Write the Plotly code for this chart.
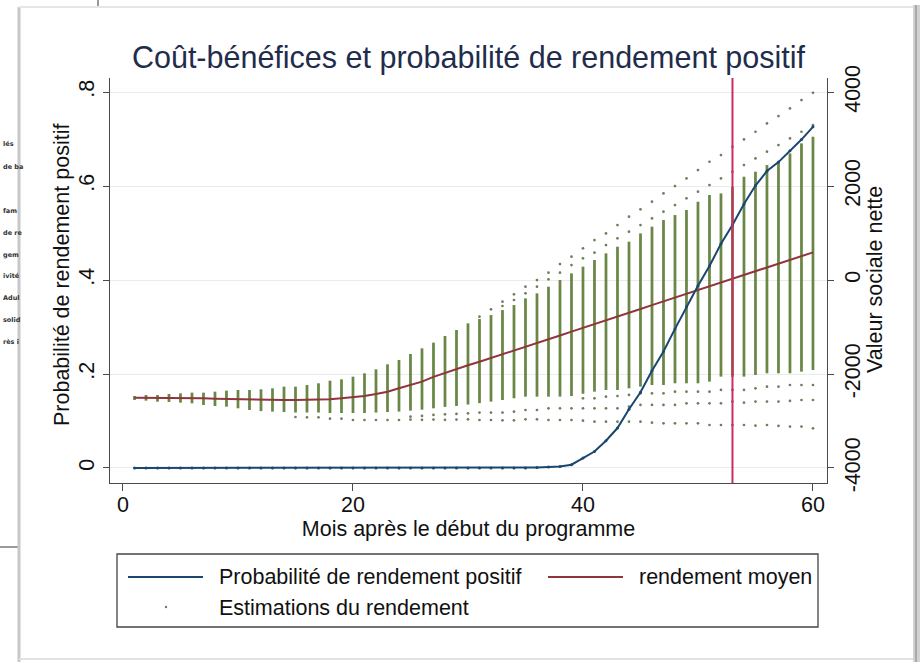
import plotly.graph_objects as go

# ---------------- data ----------------
months = list(range(1, 61))

# probability of positive return (left axis)
prob_positive = [
    0.0, 0.0, 0.0, 0.0, 0.0, 0.0, 0.0, 0.0, 0.0, 0.0,
    0.0, 0.0, 0.0, 0.0, 0.0, 0.0, 0.0, 0.0, 0.0, 0.0,
    0.0, 0.0, 0.0, 0.0, 0.0, 0.0, 0.0, 0.0, 0.0, 0.0,
    0.0, 0.0, 0.0, 0.0, 0.0, 0.001, 0.002, 0.003, 0.007, 0.021,
    0.035, 0.058, 0.085, 0.125, 0.161, 0.207, 0.248, 0.296, 0.343, 0.388,
    0.430, 0.477, 0.517, 0.562, 0.601, 0.632, 0.651, 0.675, 0.699, 0.726,
]

# mean return (right axis)
mean_return = [
    -2503, -2503, -2503, -2510, -2510, -2518, -2518, -2525, -2532, -2539,
    -2546, -2553, -2553, -2553, -2553, -2553, -2546, -2539, -2518, -2496,
    -2468, -2426, -2376, -2305, -2234, -2163, -2060, -1975, -1890, -1815,
    -1740, -1662, -1580, -1502, -1420, -1340, -1260, -1180, -1098, -1015,
    -936, -856, -776, -696, -615, -535, -455, -375, -295, -214,
    -134, -54, 27, 108, 188, 268, 349, 430, 510, 589,
]

# dense band of simulated returns (right axis)
band_high = [
    -2468, -2447, -2447, -2425, -2411, -2397, -2397, -2376, -2354, -2340,
    -2340, -2326, -2305, -2269, -2269, -2234, -2198, -2142, -2113, -2057,
    -1986, -1901, -1794, -1702, -1574, -1454, -1333, -1191, -1064, -922,
    -830, -745, -638, -532, -390, -284, -142, 0, 142, 284,
    426, 568, 709, 816, 993, 1135, 1277, 1383, 1490, 1667,
    1809, 1844, 1986, 2199, 2305, 2447, 2518, 2695, 2908, 3050,
]
band_low = [
    -2553, -2567, -2589, -2596, -2610, -2624, -2659, -2681, -2695, -2730,
    -2766, -2790, -2801, -2810, -2820, -2820, -2820, -2830, -2830, -2830,
    -2830, -2820, -2810, -2800, -2780, -2760, -2730, -2700, -2680, -2650,
    -2620, -2588, -2553, -2517, -2482, -2482, -2482, -2482, -2470, -2420,
    -2376, -2340, -2340, -2305, -2269, -2234, -2234, -2198, -2198, -2198,
    -2163, -2056, -2056, -2056, -2020, -1985, -1985, -1985, -1950, -1915,
]

# isolated simulated returns (right axis), None = no point
N = None
top_outer = [
    N, N, N, N, N, N, N, N, N, N,
    N, N, N, N, N, N, N, N, N, N,
    N, N, N, N, N, N, N, N, N, N,
    -780, -624, -461, -305, -142, 0, 156, 340, 497, 674,
    851, 993, 1170, 1348, 1504, 1667, 1844, 2000, 2163, 2341,
    2518, 2660, 2837, 2993, 3156, 3334, 3490, 3653, 3830, 3986,
]
top_inner = [
    N, N, N, N, N, N, N, N, N, N,
    N, N, N, N, N, N, N, N, N, N,
    N, N, N, N, N, N, N, N, N, N,
    N, N, -553, -425, -284, -142, 14, 156, 319, 461,
    582, 745, 887, 1029, 1170, 1312, 1454, 1596, 1738, 1880,
    2021, 2163, 2305, 2447, 2589, 2731, 2873, 3014, 3156, 3298,
]
bottom_inner = [
    N, N, N, N, N, N, N, N, N, N,
    N, N, N, N, N, N, N, N, N, N,
    N, N, N, N, N, N, N, N, N, N,
    N, N, N, N, N, N, N, N, N, -2517,
    -2517, -2482, -2468, -2446, -2411, -2411, -2411, -2376, -2376, -2376,
    -2376, -2340, -2340, -2340, -2305, -2269, -2269, -2234, -2234, -2234,
]
bottom_mid = [
    N, N, N, N, N, N, N, N, N, N,
    N, N, N, N, N, N, N, N, N, N,
    N, N, N, N, -2908, -2893, -2872, -2858, -2850, -2837,
    -2822, -2822, -2822, -2801, -2766, -2766, -2730, -2730, -2730, -2730,
    -2730, -2730, -2730, -2695, -2659, -2659, -2659, -2659, -2624, -2624,
    -2624, -2624, -2588, -2610, -2588, -2588, -2588, -2574, -2553, -2553,
]
bottom_outer = [
    N, N, N, N, N, N, N, N, N, N,
    N, N, N, N, -2915, -2922, -2922, -2950, -2950, -2979,
    -2979, -2979, -2979, -2979, -2970, -2975, -2970, -2975, -2970, -2964,
    -2979, -2979, -2986, -2986, -2964, -2964, -2979, -2979, -2979, -2993,
    -3014, -3014, -3014, -3014, -3014, -3035, -3050, -3050, -3050, -3050,
    -3085, -3085, -3085, -3085, -3099, -3085, -3106, -3120, -3120, -3156,
]

breakeven_month = 53

x_ticks = [0, 20, 40, 60]
prob_ticks = [0, 0.2, 0.4, 0.6, 0.8]
prob_ticktext = ["0", ".2", ".4", ".6", ".8"]
value_ticks = [-4000, -2000, 0, 2000, 4000]
value_ticktext = ["-4000", "-2000", "0", "2000", "4000"]

title_text = "Coût-bénéfices et probabilité de rendement positif"
x_title = "Mois après le début du programme"
left_title = "Probabilité de rendement positif"
right_title = "Valeur sociale nette"
legend_labels = ["Probabilité de rendement positif", "rendement moyen", "Estimations du rendement"]
bg_fragments = ["lés", "de ba", "fam", "de re", "gem", "ivité", "Adul", "solid", "rès i"]

# ---------------- styling / layout helpers ----------------
W, H = 920, 662
L, R, T, B = 110, 827, 78, 483
FONT = "Liberation Sans, Arial, Helvetica, sans-serif"
BLUE = "#1a476f"
MAROON = "#90353b"
GREEN = "#5e7d36"
DOT = "#6f7d5c"
AX = "#4a4a4a"


def px(x):
    return (x - L) / (R - L)


def py(y):
    return (B - y) / (B - T)


fig = go.Figure()

# dense bands
fig.add_trace(go.Bar(
    x=months, y=[h - l for h, l in zip(band_high, band_low)], base=band_low,
    width=0.24, marker=dict(color=GREEN, line_width=0), opacity=0.92,
    yaxis="y", showlegend=False, hoverinfo="skip", name=legend_labels[2]))

# isolated dots
ox, oy = [], []
for track in (top_outer, top_inner, bottom_inner, bottom_mid, bottom_outer):
    for m, v in zip(months, track):
        if v is not None:
            ox.append(m)
            oy.append(v)
fig.add_trace(go.Scatter(
    x=ox, y=oy, mode="markers", marker=dict(size=2.7, color=DOT),
    yaxis="y", name=legend_labels[2], showlegend=False))

# mean return line
fig.add_trace(go.Scatter(
    x=months, y=mean_return, mode="lines", line=dict(color=MAROON, width=2),
    yaxis="y", name=legend_labels[1], showlegend=False))

# probability line
fig.add_trace(go.Scatter(
    x=months, y=prob_positive, mode="lines+markers",
    line=dict(color=BLUE, width=2), marker=dict(size=3, color=BLUE),
    yaxis="y2", name=legend_labels[0], showlegend=False))

shapes = []
# breakeven vertical line
shapes.append(dict(type="line", xref="x", yref="paper", x0=breakeven_month, x1=breakeven_month,
                   y0=0, y1=1, line=dict(color="#cc2d62", width=2), layer="above"))

# legend box and samples
shapes.append(dict(type="rect", xref="paper", yref="paper", x0=px(117), x1=px(818),
                   y0=py(627), y1=py(554), line=dict(color="#444", width=1.3)))
shapes.append(dict(type="line", xref="paper", yref="paper", x0=px(128), x1=px(203),
                   y0=py(577), y1=py(577), line=dict(color=BLUE, width=2)))
shapes.append(dict(type="line", xref="paper", yref="paper", x0=px(548), x1=px(623),
                   y0=py(577), y1=py(577), line=dict(color=MAROON, width=2)))
shapes.append(dict(type="circle", xref="paper", yref="paper", x0=px(164.8), x1=px(167.2),
                   y0=py(608.2), y1=py(605.8), fillcolor=DOT, line=dict(width=0)))

# card frame / page behind
shapes.append(dict(type="line", xref="paper", yref="paper", x0=px(98), x1=px(98),
                   y0=py(0), y1=py(7), line=dict(color="#9a9a9a", width=2), layer="below"))
shapes.append(dict(type="line", xref="paper", yref="paper", x0=px(0), x1=px(18),
                   y0=py(547), y1=py(547), line=dict(color="#9a9a9a", width=2), layer="below"))
shapes.append(dict(type="line", xref="paper", yref="paper", x0=px(19), x1=px(19),
                   y0=py(7), y1=py(662), line=dict(color="#c8c8c8", width=3), layer="below"))
shapes.append(dict(type="line", xref="paper", yref="paper", x0=px(19), x1=px(915),
                   y0=py(7), y1=py(7), line=dict(color="#e6e6e6", width=2), layer="below"))
shapes.append(dict(type="rect", xref="paper", yref="paper", x0=px(913), x1=px(920),
                   y0=py(5), y1=py(662), fillcolor="#d2d2d2", line=dict(width=0), layer="below"))
shapes.append(dict(type="line", xref="paper", yref="paper", x0=px(916), x1=px(916),
                   y0=py(5), y1=py(662), line=dict(color="#a9a9a9", width=2), layer="below"))
shapes.append(dict(type="line", xref="paper", yref="paper", x0=px(19), x1=px(913),
                   y0=py(659), y1=py(659), line=dict(color="#e2e2e2", width=2), layer="below"))

annotations = []
# axis titles
annotations.append(dict(text=left_title, xref="paper", yref="paper", x=px(62), y=py(275),
                        xanchor="center", yanchor="middle", textangle=-90, showarrow=False,
                        font=dict(size=21.5, color="#111", family=FONT)))
annotations.append(dict(text=right_title, xref="paper", yref="paper", x=px(875), y=py(280),
                        xanchor="center", yanchor="middle", textangle=-90, showarrow=False,
                        font=dict(size=21.5, color="#111", family=FONT)))
# legend texts
annotations.append(dict(text=legend_labels[0], xref="paper", yref="paper", x=px(217), y=py(577),
                        xanchor="left", yanchor="middle", showarrow=False,
                        font=dict(size=21.5, color="#111", family=FONT)))
annotations.append(dict(text=legend_labels[1], xref="paper", yref="paper", x=px(637), y=py(577),
                        xanchor="left", yanchor="middle", showarrow=False,
                        font=dict(size=21.5, color="#111", family=FONT)))
annotations.append(dict(text=legend_labels[2], xref="paper", yref="paper", x=px(217), y=py(608),
                        xanchor="left", yanchor="middle", showarrow=False,
                        font=dict(size=21.5, color="#111", family=FONT)))
frag_y = [144, 167, 211, 233, 255, 276, 298, 320, 342]
for t, yy in zip(bg_fragments, frag_y):
    annotations.append(dict(text="<b>" + t + "</b>", xref="paper", yref="paper", x=px(1), y=py(yy),
                            xanchor="left", yanchor="middle", showarrow=False,
                            font=dict(size=6.5, color="#333", family="DejaVu Sans")))

axis_common = dict(ticks="outside", tickcolor=AX, tickwidth=1.2, showline=True,
                   linecolor=AX, linewidth=1.3, zeroline=False, automargin=False,
                   tickfont=dict(size=21.5, color="#111", family=FONT))

fig.update_layout(
    width=W, height=H,
    margin=dict(l=L, r=W - R, t=T, b=H - B, autoexpand=False),
    paper_bgcolor="white", plot_bgcolor="white",
    font=dict(family=FONT, color="#111"),
    showlegend=False, barmode="overlay",
    title=dict(text=title_text, x=0.5, xref="paper", xanchor="center",
               y=1 - 57 / H, yanchor="middle",
               font=dict(size=30.5, color="#1f2c4c", family=FONT)),
    xaxis=dict(range=[-1.13, 61.22], tickvals=x_ticks, ticklen=7, showgrid=False,
               ticklabelstandoff=-5,
               title=dict(text=x_title, font=dict(size=21.5, color="#111"), standoff=3),
               **axis_common),
    yaxis=dict(range=[-4320, 4300], side="right", tickvals=value_ticks, ticktext=value_ticktext,
               tickangle=-90, ticklen=6, showgrid=True, gridcolor="#ebebeb", gridwidth=1,
               **axis_common),
    yaxis2=dict(range=[-0.032, 0.83], overlaying="y", side="left", anchor="x",
                tickvals=prob_ticks, ticktext=prob_ticktext, tickangle=-90,
                ticklen=6, showgrid=False,
                **axis_common),
    shapes=shapes, annotations=annotations,
)

fig.write_html("out.html", config={"displayModeBar": False},
               post_script="document.body.style.margin='0';")
